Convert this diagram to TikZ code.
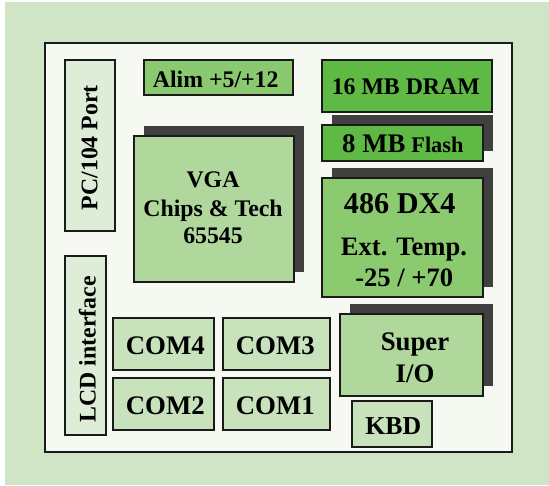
\documentclass[tikz,border=0pt]{standalone}
\usepackage{fontspec}
\setmainfont{Liberation Serif}
\usetikzlibrary{shadows}
\definecolor{bgc}{HTML}{CFE5C6}
\definecolor{boardc}{HTML}{F6F9F2}
\definecolor{portc}{HTML}{DEEDD7}
\definecolor{alimc}{HTML}{8BC970}
\definecolor{memc}{HTML}{5EB945}
\definecolor{cpuc}{HTML}{8CCA70}
\definecolor{chipc}{HTML}{B0D89C}
\definecolor{comc}{HTML}{C8E3BC}
\definecolor{shadowc}{HTML}{404040}
\definecolor{linec}{HTML}{1A1A1A}
\newcommand\myfs[1]{\fontsize{#1}{#1}\selectfont\bfseries}
\begin{document}
\begin{tikzpicture}[x=1pt,y=-1pt,
  blk/.style={draw=linec, line width=2pt, inner sep=0pt},
  shd/.style={drop shadow={shadow xshift=10pt, shadow yshift=10pt, fill=shadowc, opacity=1}},
  txt/.style={inner sep=0pt, anchor=base, text=black, font=\myfs{#1}},
  txt/.default=23.8]
\useasboundingbox (0,0) rectangle (549,485);
\fill[bgc] (5,2) rectangle (549,485);
\node[blk, line width=2.2pt, fill=boardc, minimum width=466.7pt, minimum height=409.3pt] (board) at (278.35,247.65) {};
% ports
\node[blk, fill=portc, minimum width=50.6pt, minimum height=171pt] (pc) at (90,145.2) {};
\node[txt, rotate=90] (pct) at (97.3,147.7) {PC/104 Port};
\node[blk, fill=portc, minimum width=41pt, minimum height=179.6pt] (lcd) at (85.2,345.5) {};
\node[txt, rotate=90] (lcdt) at (95.7,349.2) {LCD interface};
% power
\node[blk, fill=alimc, minimum width=149.6pt, minimum height=35pt] (alim) at (218.5,77.2) {};
\node[txt] (alimt) at (215.7,87) {Alim +5/+12};
% memory
\node[blk, fill=memc, minimum width=169.4pt, minimum height=52.3pt] (dram) at (407,85.85) {};
\node[txt] (dramt) at (405.8,94.7) {16 MB DRAM};
\node[blk, shd, fill=memc, minimum width=160.4pt, minimum height=36pt] (flash) at (402.5,142.7) {};
\node[txt] (flasht) at (402.8,152.3) {{\myfs{26.8}8 MB} {\myfs{22.3}Flash}};
% VGA
\node[blk, shd, fill=chipc, minimum width=159.5pt, minimum height=146pt] (vga) at (213.75,209.3) {};
\node[txt] (vga1) at (213,187) {VGA};
\node[txt] (vga2) at (213,216.3) {Chips \& Tech};
\node[txt] (vga3) at (213,243) {65545};
% CPU
\node[blk, shd, fill=cpuc, minimum width=160.4pt, minimum height=118.7pt] (cpu) at (402.5,237.35) {};
\node[txt=30.2] (cpu1) at (399.7,213) {486 DX4};
\node[txt=26.6] (cpu2) at (404,255.7) {Ext. Temp.};
\node[txt=26.6] (cpu3) at (404.2,286) {-25 / +70};
% COM ports
\node[blk, fill=comc, minimum width=101.3pt, minimum height=51.7pt] (com4) at (163.65,344.15) {};
\node[txt=26.8] (com4t) at (165.3,354) {COM4};
\node[blk, fill=comc, minimum width=106.7pt, minimum height=51.7pt] (com3) at (276.65,344.15) {};
\node[txt=26.8] (com3t) at (275.3,354) {COM3};
\node[blk, fill=comc, minimum width=101.3pt, minimum height=51.7pt] (com2) at (163.65,404.15) {};
\node[txt=26.8] (com2t) at (165.3,414) {COM2};
\node[blk, fill=comc, minimum width=106.7pt, minimum height=51.7pt] (com1) at (276.65,404.15) {};
\node[txt=26.8] (com1t) at (275.3,414) {COM1};
% Super I/O
\node[blk, shd, fill=chipc, minimum width=142.7pt, minimum height=81.7pt] (sio) at (411.35,355.15) {};
\node[txt=26.8] (sio1) at (415,350) {Super};
\node[txt=26.8] (sio2) at (415,382.7) {I/O};
% KBD
\node[blk, fill=comc, minimum width=80pt, minimum height=46.3pt] (kbd) at (392.3,424.15) {};
\node[txt=25.8] (kbdt) at (393.3,434.3) {KBD};
\end{tikzpicture}
\end{document}
